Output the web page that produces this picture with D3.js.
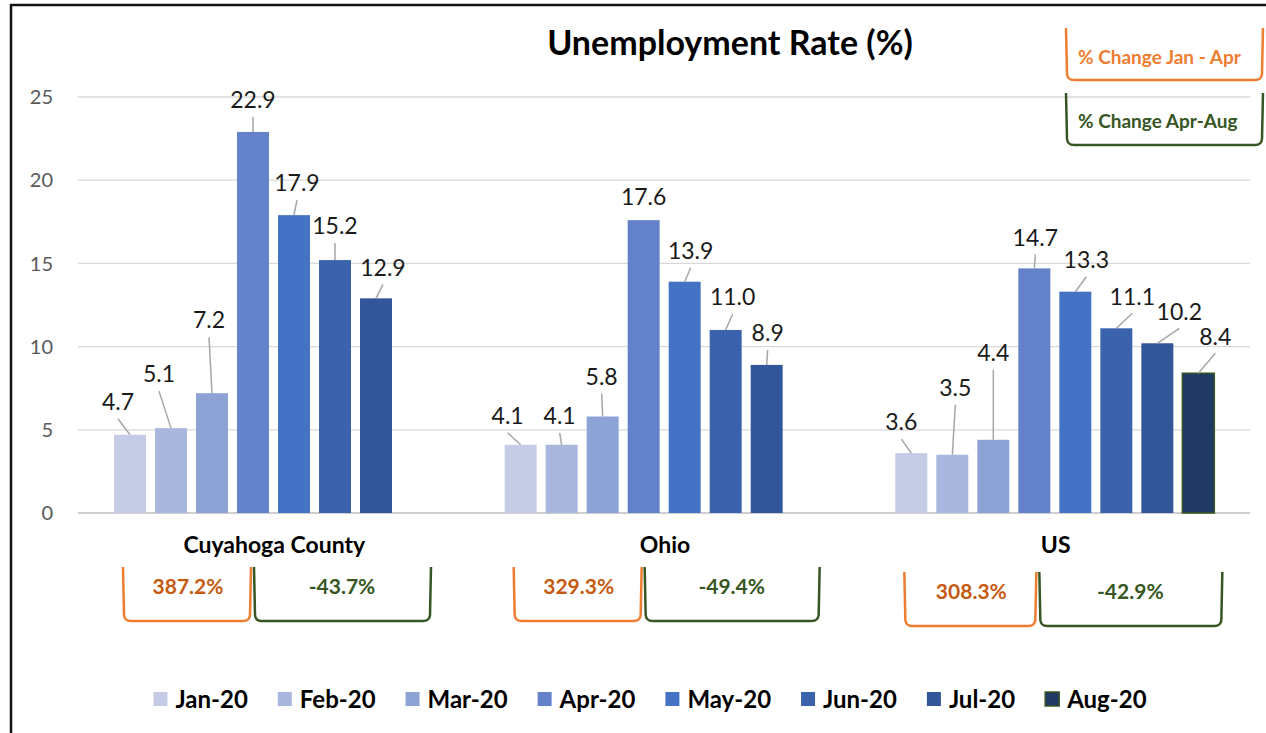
<!DOCTYPE html>
<html><head><meta charset="utf-8">
<script src="https://cdn.jsdelivr.net/npm/d3@7"></script>
<style>
html,body{margin:0;padding:0;background:#fff;}
svg text{font-family:Lato,"Noto Sans",sans-serif;}
</style></head>
<body><svg id="chart" width="1266" height="733"></svg>
<script>
// ---- data ----
const categories = ["Cuyahoga County", "Ohio", "US"];
const months = ["Jan-20","Feb-20","Mar-20","Apr-20","May-20","Jun-20","Jul-20","Aug-20"];
const cuyahoga = [4.7, 5.1, 7.2, 22.9, 17.9, 15.2, 12.9, null];
const ohio     = [4.1, 4.1, 5.8, 17.6, 13.9, 11.0, 8.9, null];
const us       = [3.6, 3.5, 4.4, 14.7, 13.3, 11.1, 10.2, 8.4];
const yTicks = [0, 5, 10, 15, 20, 25];
const changeJanApr = ["387.2%", "329.3%", "308.3%"];
const changeAprAug = ["-43.7%", "-49.4%", "-42.9%"];
// label placement nudges (dx, dy from bar top)
const labelNudge = [
  [[-12,-33],[-12,-54],[-3,-73],[0,-32],[3,-32],[0,-34],[7,-31],null],
  [[-13,-29],[-2,-29],[-1,-40],[0,-23],[6,-31],[7,-33],[1,-32],null],
  [[-10,-31],[3,-67],[0,-87],[1,-31],[11,-32],[16,-32],[22,-32],[17,-37]]
];
// bracket adjustments: [dy, mid dx, right dx]
const bracketAdjust = [[0,0,0],[0,0,-2],[5,4,10]];
const colors = ["#C5CCE6","#A9B7DE","#8DA2D5","#6482C9","#4472C4","#3B63AD","#33569B","#203864"];

const series = [cuyahoga, ohio, us];
const svg = d3.select("#chart");

const plot = {left:78, right:1250, top:97, bottom:513};
const y = d3.scaleLinear().domain([0,25]).range([plot.bottom, plot.top]);
const x0 = d3.scaleBand().domain(categories).range([plot.left, plot.right]).padding(0);
const x1 = d3.scaleBand().domain(months).range([36, 355]).paddingInner(0.22).paddingOuter(0);

// border
svg.append("rect").attr("x",11).attr("y",5).attr("width",1300).attr("height",800)
  .attr("fill","none").attr("stroke","#111").attr("stroke-width",2.5);

// gridlines
svg.append("g").selectAll("line").data(yTicks).join("line")
  .attr("x1",plot.left).attr("x2",plot.right)
  .attr("y1",d=>y(d)).attr("y2",d=>y(d))
  .attr("stroke", d=> d===0 ? "#bfbfbf" : "#d9d9d9").attr("stroke-width",1.3);

// y axis labels
svg.append("g").selectAll("text").data(yTicks).join("text")
  .attr("x",53).attr("y",d=>y(d)).attr("dy","0.36em")
  .attr("text-anchor","end").attr("font-size",20).attr("fill","#595959")
  .text(d=>d);

// title
svg.append("text").attr("x",730).attr("y",43).attr("dy","0.35em")
  .attr("text-anchor","middle").attr("font-size",34).attr("font-weight","bold")
  .attr("fill","#000").text("Unemployment Rate (%)");

// bars
const flat = [];
series.forEach((vals, ci) => vals.forEach((v, mi) => {
  if (v !== null) flat.push({cat:categories[ci], ci, mi, month:months[mi], v});
}));

svg.append("g").selectAll("rect").data(flat).join("rect")
  .attr("x", d=>x0(d.cat)+x1(d.month))
  .attr("y", d=>y(d.v))
  .attr("width", x1.bandwidth())
  .attr("height", d=>y(0)-y(d.v))
  .attr("fill", d=>colors[d.mi])
  .attr("stroke", d=> d.mi===7 ? "#385723" : "none")
  .attr("stroke-width", 1.5);

// leader lines & labels
const lbl = svg.append("g");
flat.forEach(d => {
  const bx = x0(d.cat)+x1(d.month)+x1.bandwidth()/2;
  const by = y(d.v);
  const n = labelNudge[d.ci][d.mi];
  const tx = bx + n[0], ty = by + n[1];
  const sy = ty + 17;
  if (by - sy > 9) {
    lbl.append("line").attr("x1",tx).attr("y1",sy).attr("x2",bx).attr("y2",by)
      .attr("stroke","#a6a6a6").attr("stroke-width",1.5);
  }
  lbl.append("text").attr("x",tx).attr("y",ty).attr("dy","0.36em")
    .attr("text-anchor","middle").attr("font-size",23).attr("fill","#1a1a1a")
    .text(d3.format(".1f")(d.v));
});

// category labels
svg.append("g").selectAll("text").data(categories).join("text")
  .attr("x", d=>x0(d)+x0.bandwidth()/2 + 1).attr("y",545).attr("dy","0.36em")
  .attr("text-anchor","middle").attr("font-size",23).attr("font-weight","bold")
  .attr("fill","#000").text(d=>d);

// bracket path helper
function bracket(l, r, t, b) {
  const rr = 6;
  return `M${l},${t} L${l+1},${b-rr} Q${l+1.5},${b} ${l+rr+2},${b} L${r-rr-2},${b} Q${r-1.5},${b} ${r-1},${b-rr} L${r},${t}`;
}
const orange = "#ED7D31", orangeText = "#C55A11", green = "#375623";
const bg = svg.append("g");
categories.forEach((c, i) => {
  const a = bracketAdjust[i];
  const base = x0(c);
  const left = base + x1("Jan-20") + 9;
  const mid = base + x1("Apr-20") + x1.bandwidth()/2 + a[1];
  const right = base + x1("Aug-20") + x1.bandwidth() - 2 + a[2];
  const top = 567 + a[0], bot = 621 + a[0];
  bg.append("path").attr("d", bracket(left, mid-2, top, bot))
    .attr("fill","none").attr("stroke",orange).attr("stroke-width",2.5);
  bg.append("path").attr("d", bracket(mid+1, right, top, bot))
    .attr("fill","none").attr("stroke",green).attr("stroke-width",2.5);
  bg.append("text").attr("x",(left+mid)/2).attr("y",top+19).attr("dy","0.36em")
    .attr("text-anchor","middle").attr("font-size",21).attr("font-weight","bold")
    .attr("fill",orangeText).text(changeJanApr[i]);
  bg.append("text").attr("x",(mid+right)/2).attr("y",top+19).attr("dy","0.36em")
    .attr("text-anchor","middle").attr("font-size",21).attr("font-weight","bold")
    .attr("fill",green).text(changeAprAug[i]);
});

// top-right keys
const keys = [
  {text:"% Change Jan - Apr", stroke:orange, fill:orange, top:28, bot:80, ty:57},
  {text:"% Change Apr-Aug", stroke:green, fill:green, top:93, bot:145, ty:121}
];
keys.forEach(k => {
  svg.append("path").attr("d", bracket(1066, 1263, k.top, k.bot))
    .attr("fill","none").attr("stroke",k.stroke).attr("stroke-width",2.5);
  svg.append("text").attr("x",1078).attr("y",k.ty).attr("dy","0.36em")
    .attr("font-size",19).attr("font-weight","bold").attr("fill",k.fill).text(k.text);
});

// legend
const lg = svg.append("g");
const items = months.map((m,i) => {
  const g = lg.append("g");
  g.append("rect").attr("width",14).attr("height",14).attr("y",-7)
    .attr("fill",colors[i]).attr("stroke", i===7 ? "#385723" : "none").attr("stroke-width",1.5);
  const t = g.append("text").attr("x",22).attr("dy","0.36em")
    .attr("font-size",24).attr("font-weight","bold").attr("fill","#000").text(m);
  return {g, w: 22 + t.node().getComputedTextLength()};
});
const gap = 30;
const total = d3.sum(items, d=>d.w) + gap*(items.length-1);
let cx = 650 - total/2;
items.forEach(it => { it.g.attr("transform",`translate(${cx},699)`); cx += it.w + gap; });
</script></body></html>
